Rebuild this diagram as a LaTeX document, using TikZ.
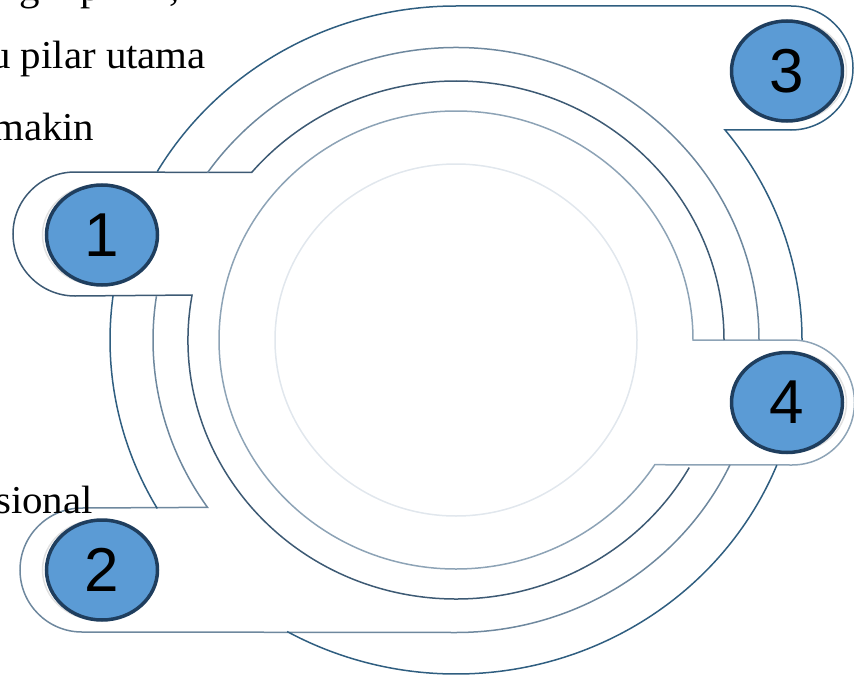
\documentclass[tikz,border=0pt]{standalone}
\usepackage{fontspec}
\usepackage{graphicx}
\setmainfont{Liberation Serif}
\newfontfamily\digitfont{Liberation Sans}
\usetikzlibrary{calc,shapes.geometric}
\definecolor{cA}{HTML}{2F5E80}
\definecolor{cB}{HTML}{6E889E}
\definecolor{cC}{HTML}{3D5A74}
\definecolor{cD}{HTML}{8DA3B6}
\definecolor{cE}{HTML}{E1E7ED}
\definecolor{numfill}{HTML}{5B9BD5}
\definecolor{numedge}{HTML}{1F3E5E}
\newcommand{\wide}[1]{\scalebox{1.035}[1]{#1}}
\tikzset{
  ring/.style={line width=1.5pt, line join=miter},
  numbub/.style={ellipse, draw=numedge, fill=numfill, line width=3.5pt,
    minimum width=111pt, minimum height=100pt, inner sep=0pt,
    font=\digitfont\fontsize{62}{62}\selectfont},
  shadowbub/.style={ellipse, draw=black!12, line width=1.5pt,
    minimum width=111pt, minimum height=100pt, inner sep=0pt},
  bgtext/.style={anchor=base west, inner sep=0pt, font=\fontsize{39.5}{48}\selectfont}
}
\begin{document}
\begin{tikzpicture}[x=1pt,y=-1pt]
\useasboundingbox (0,0) rectangle (854,677);
\coordinate (C) at (456,340);

% innermost light ring
\draw[cE, line width=1.5pt] (C) ellipse [x radius=181, y radius=176];

% tab 4 with ring L1
\draw[cD, ring] ($(C)+(33:237 and 229)$) -- (792,465)
  arc[start angle=90, end angle=-90, radius=62.5] -- (693,340)
  arc[start angle=360, end angle=33, x radius=237, y radius=229] -- cycle;

% tab 1 with ring L2
\draw[cC, ring] ($(C)+(0:268 and 259)$)
  arc[start angle=0, end angle=-139.7, x radius=268, y radius=259] -- (75,172)
  arc[start angle=-90, end angle=-270, radius=62] -- ($(C)+(190:268 and 259)$)
  arc[start angle=190, end angle=29.5, x radius=268, y radius=259];

% tab 2 with ring L3
\draw[cB, ring] ($(C)+(188.6:303 and 292.5)$)
  arc[start angle=188.6, end angle=145.1, x radius=303, y radius=292.5] -- (82,508)
  arc[start angle=-90, end angle=-270, radius=62] -- (456,632.5)
  arc[start angle=90, end angle=25.3, x radius=303, y radius=292.5];
\draw[cB, ring] ($(C)+(-145.1:303 and 292.5)$)
  arc[start angle=-145.1, end angle=0, x radius=303, y radius=292.5];

% tab 3 with ring L4
\draw[cA, ring] ($(C)+(-149.7:346 and 334)$)
  arc[start angle=-149.7, end angle=-90, x radius=346, y radius=334] -- (791,6)
  arc[start angle=-90, end angle=90, radius=62] -- ($(C)+(-39:346 and 334)$)
  arc[start angle=-39, end angle=0, x radius=346, y radius=334];
\draw[cA, ring] ($(C)+(22:346 and 334)$)
  arc[start angle=22, end angle=119.2, x radius=346, y radius=334];
\draw[cA, ring] ($(C)+(149.7:346 and 334)$)
  arc[start angle=149.7, end angle=187.6, x radius=346, y radius=334];

% number bubbles
\node[shadowbub] (s1) at (98,235) {};
\node[shadowbub] (s2) at (98,570) {};
\node[shadowbub] (s3) at (791,71) {};
\node[shadowbub] (s4) at (791,402.5) {};
\node[numbub] (n1) at (102,235) {1};
\node[numbub] (n2) at (102,570) {2};
\node[numbub] (n3) at (787,71) {3};
\node[numbub] (n4) at (787,402.5) {4};

% background document text
\node[bgtext] (t0a) at (19,1) {\wide{g}};
\node[bgtext] (t0b) at (80,1) {\wide{p}};
\node[bgtext] (t0c) at (169,1) {\wide{,}};
\node[bgtext] (t1) at (-10,68) {\wide{u pilar utama}};
\node[bgtext] (t2) at (-8,140) {\wide{makin}};
\node[bgtext] (t3) at (-5,513) {\wide{sional}};
\end{tikzpicture}
\end{document}
